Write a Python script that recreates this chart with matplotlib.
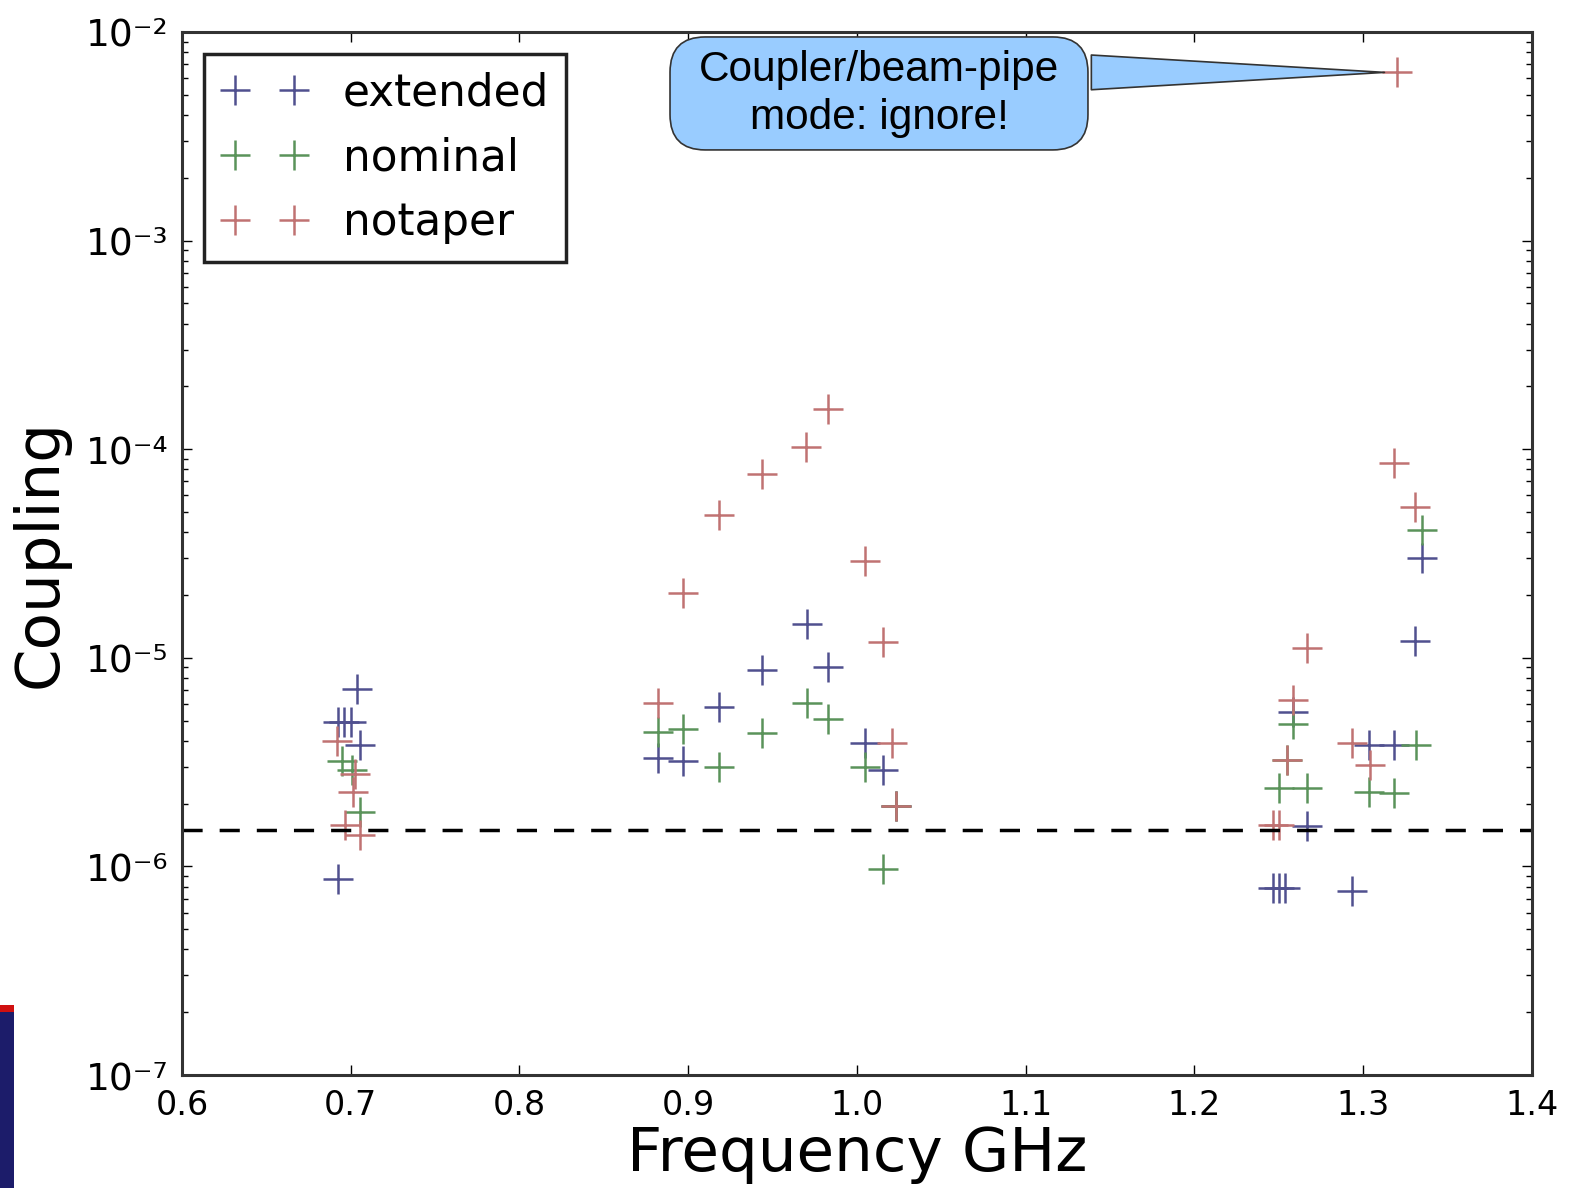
import numpy as np
import matplotlib
matplotlib.use("Agg")
import matplotlib.pyplot as plt
from matplotlib.patches import Rectangle, FancyBboxPatch

# mode frequencies (GHz) and coupling values
ext_freq = [0.7035, 0.6926, 0.6960, 0.7000, 0.7055, 0.6926,
            0.9706, 0.9439, 0.9830, 0.9182, 0.8823, 0.8971, 1.0047, 1.0156, 1.0229,
            1.3346, 1.3307, 1.2582, 1.3036, 1.3184, 1.2665, 1.2467, 1.2503, 1.2536, 1.2932]
ext_coup = [7.1e-6, 4.9e-6, 4.9e-6, 4.9e-6, 3.8e-6, 8.7e-7,
            1.45e-5, 8.7e-6, 9.0e-6, 5.8e-6, 3.3e-6, 3.2e-6, 3.9e-6, 2.9e-6, 1.95e-6,
            3.0e-5, 1.21e-5, 5.5e-6, 3.8e-6, 3.8e-6, 1.57e-6, 7.9e-7, 7.9e-7, 7.9e-7, 7.6e-7]

nom_freq = [0.6946, 0.7007, 0.7055,
            0.9706, 0.9830, 0.8823, 0.8971, 0.9439, 0.9182, 1.0047, 1.0229, 1.0156,
            1.3346, 1.2582, 1.3311, 1.2547, 1.2503, 1.2665, 1.3036, 1.3184]
nom_coup = [3.2e-6, 2.9e-6, 1.82e-6,
            6.05e-6, 5.1e-6, 4.4e-6, 4.55e-6, 4.35e-6, 3.0e-6, 3.0e-6, 1.95e-6, 9.7e-7,
            4.1e-5, 4.8e-6, 3.8e-6, 3.24e-6, 2.37e-6, 2.37e-6, 2.28e-6, 2.26e-6]

notap_freq = [0.6917, 0.7025, 0.7015, 0.6966, 0.7055,
              0.9830, 0.9696, 0.9439, 0.9182, 1.0047, 0.8971, 1.0156, 0.8823, 1.0209, 1.0229,
              1.3200, 1.3182, 1.3307, 1.2665, 1.2582, 1.2932, 1.3040, 1.2547, 1.2467, 1.2500]
notap_coup = [4.0e-6, 2.77e-6, 2.28e-6, 1.58e-6, 1.41e-6,
              1.55e-4, 1.02e-4, 7.6e-5, 4.85e-5, 2.9e-5, 2.05e-5, 1.19e-5, 6.05e-6, 3.9e-6, 1.95e-6,
              6.4e-3, 8.6e-5, 5.3e-5, 1.11e-5, 6.3e-6, 3.9e-6, 3.06e-6, 3.24e-6, 1.58e-6, 1.58e-6]

threshold = 1.5e-6

yticks = [1e-7, 1e-6, 1e-5, 1e-4, 1e-3, 1e-2]
yticklabels = ['10⁻⁷', '10⁻⁶', '10⁻⁵', '10⁻⁴', '10⁻³', '10⁻²']
xticks = [0.6, 0.7, 0.8, 0.9, 1.0, 1.1, 1.2, 1.3, 1.4]
xticklabels = ['0.6', '0.7', '0.8', '0.9', '1.0', '1.1', '1.2', '1.3', '1.4']

fig = plt.figure(figsize=(15.69, 11.88), dpi=100)
ax = fig.add_axes([0.116, 0.0951, 0.8604, 0.878])

ms = 22
mew = 1.8
ax.plot(ext_freq, ext_coup, '+', color='#50508f', ms=ms, mew=mew, label='extended')
ax.plot(nom_freq, nom_coup, '+', color='#5a935a', ms=ms, mew=mew, label='nominal')
ax.plot(notap_freq, notap_coup, '+', color='#c07272', ms=ms, mew=mew, label='notaper')

ax.axhline(threshold, color='k', lw=2.5, ls=(0, (5.8, 4.9)))

ax.set_yscale('log')
ax.set_xlim(0.6, 1.4)
ax.set_ylim(1e-7, 1e-2)
ax.set_xticks(xticks)
ax.set_xticklabels(xticklabels)
ax.set_yticks(yticks)
ax.set_yticklabels(yticklabels)

ax.tick_params(which='both', direction='in', top=True, right=True)
ax.tick_params(axis='x', labelsize=24)
ax.tick_params(axis='y', labelsize=27)
ax.tick_params(which='major', length=7, width=1, pad=10)
ax.tick_params(which='minor', length=4, width=1)
for sp in ax.spines.values():
    sp.set_linewidth(2.2)
    sp.set_color('#333333')

ax.set_xlabel('Frequency GHz', fontsize=44, labelpad=2)
ax.set_ylabel('Coupling', fontsize=44)
ax.yaxis.set_label_coords(-0.083, 0.5)

leg = ax.legend(loc='upper left', numpoints=2, fontsize=31.5, fancybox=False,
                handlelength=1.95, handletextpad=0.82, labelspacing=0.5,
                borderpad=0.4, borderaxespad=0.5, framealpha=1)
leg.get_frame().set_edgecolor('#222222')
leg.get_frame().set_linewidth(2.5)

# speech-bubble callout
box = FancyBboxPatch((0.3615, 0.8869), 0.3096, 0.1083, transform=ax.transAxes,
                     boxstyle='round,pad=0,rounding_size=0.026', mutation_aspect=1.3,
                     fc='#99ccff', ec='#333333', lw=1.2, zorder=4)
ax.add_patch(box)
ax.text(0.5163, 0.9405, 'Coupler/beam-pipe\nmode: ignore!', transform=ax.transAxes,
        ha='center', va='center', fontsize=30.5, family='Liberation Sans',
        linespacing=1.25, zorder=5)
ax.annotate('', xy=(1.32, 6.4e-3), xytext=(1.0, 6.4e-3),
            arrowprops=dict(arrowstyle='wedge,tail_width=2.5', mutation_scale=10,
                            fc='#99ccff', ec='#333333', lw=1.2, patchA=box, shrinkB=9),
            zorder=3)

# cropped slide logo at the lower-left edge
fig.patches.append(Rectangle((0, 0), 0.009, 0.152, transform=fig.transFigure,
                             fc='#1c1c6a', ec='none', zorder=0))
fig.patches.append(Rectangle((0, 0.148), 0.009, 0.006, transform=fig.transFigure,
                             fc='#d01010', ec='none', zorder=0))

plt.savefig('out.png', dpi=100)
